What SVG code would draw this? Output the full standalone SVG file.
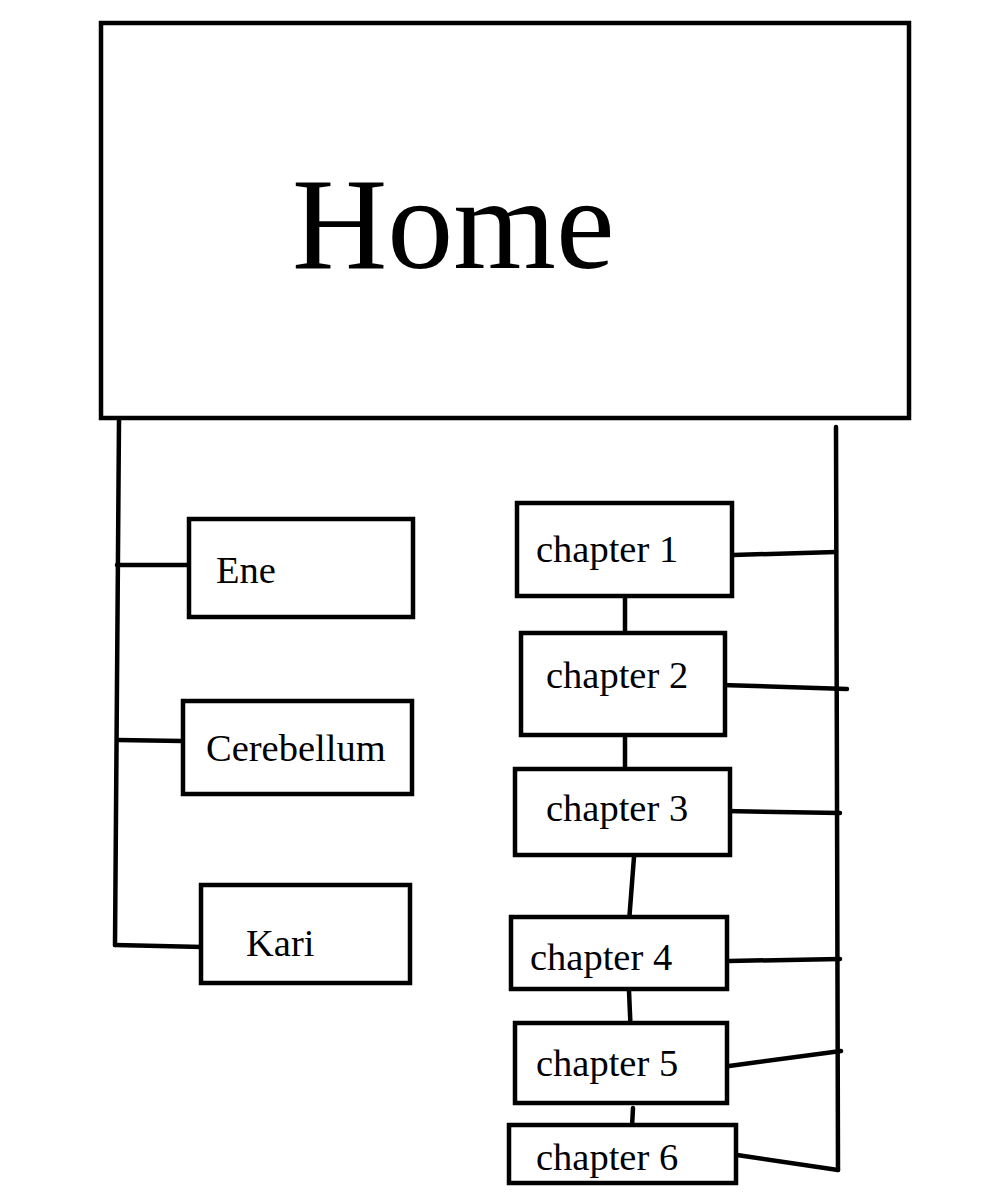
<svg xmlns="http://www.w3.org/2000/svg" width="1000" height="1200" viewBox="0 0 1000 1200">
<style>
.box{fill:#fff;stroke:#000;stroke-width:4.5}
.ln{stroke:#000;stroke-width:4.5;stroke-linecap:round;fill:none}
.t{font-family:"Liberation Serif","Times New Roman",serif;font-size:38.5px;fill:#000}
</style>
<rect width="1000" height="1200" fill="#fff"/>
<g id="connectors">
<path class="ln" d="M119,420 L115,945"/>
<path class="ln" d="M117,565 L192,565"/>
<path class="ln" d="M118,740 L182,741"/>
<path class="ln" d="M115,945 L203,947"/>
<path class="ln" d="M836,427 L838,1170"/>
<path class="ln" d="M733,555 L836,552"/>
<path class="ln" d="M721,685 L847,689"/>
<path class="ln" d="M725,811 L840,813"/>
<path class="ln" d="M729,961 L840,959"/>
<path class="ln" d="M729,1066 L841,1051"/>
<path class="ln" d="M737,1155 L838,1170"/>
<path class="ln" d="M625,596 L625,633"/>
<path class="ln" d="M625,735 L625,782"/>
<path class="ln" d="M634,857 L629,922"/>
<path class="ln" d="M629,991 L631,1037"/>
<path class="ln" d="M633,1108 L632,1127"/>
</g>
<g id="home"><rect class="box" x="101" y="23" width="808" height="395"/><text x="292" y="268" font-family="Liberation Serif,Times New Roman,serif" font-size="132">Home</text></g>
<g id="ene"><rect class="box" x="189" y="519" width="224" height="98"/><text class="t" x="216" y="583">Ene</text></g>
<g id="cerebellum"><rect class="box" x="183" y="701" width="229" height="93"/><text class="t" x="206" y="761">Cerebellum</text></g>
<g id="kari"><rect class="box" x="201" y="885" width="209" height="98"/><text class="t" x="246" y="956">Kari</text></g>
<g id="chapter1"><rect class="box" x="517" y="503" width="215" height="93"/><text class="t" x="536" y="562">chapter 1</text></g>
<g id="chapter2"><rect class="box" x="521" y="633" width="204" height="102"/><text class="t" x="546" y="688">chapter 2</text></g>
<g id="chapter3"><rect class="box" x="515" y="769" width="215" height="86"/><text class="t" x="546" y="821">chapter 3</text></g>
<g id="chapter4"><rect class="box" x="511" y="917" width="216" height="72"/><text class="t" x="530" y="970">chapter 4</text></g>
<g id="chapter5"><rect class="box" x="515" y="1023" width="212" height="80"/><text class="t" x="536" y="1076">chapter 5</text></g>
<g id="chapter6"><rect class="box" x="509" y="1125" width="227" height="58"/><text class="t" x="536" y="1170">chapter 6</text></g>
</svg>
